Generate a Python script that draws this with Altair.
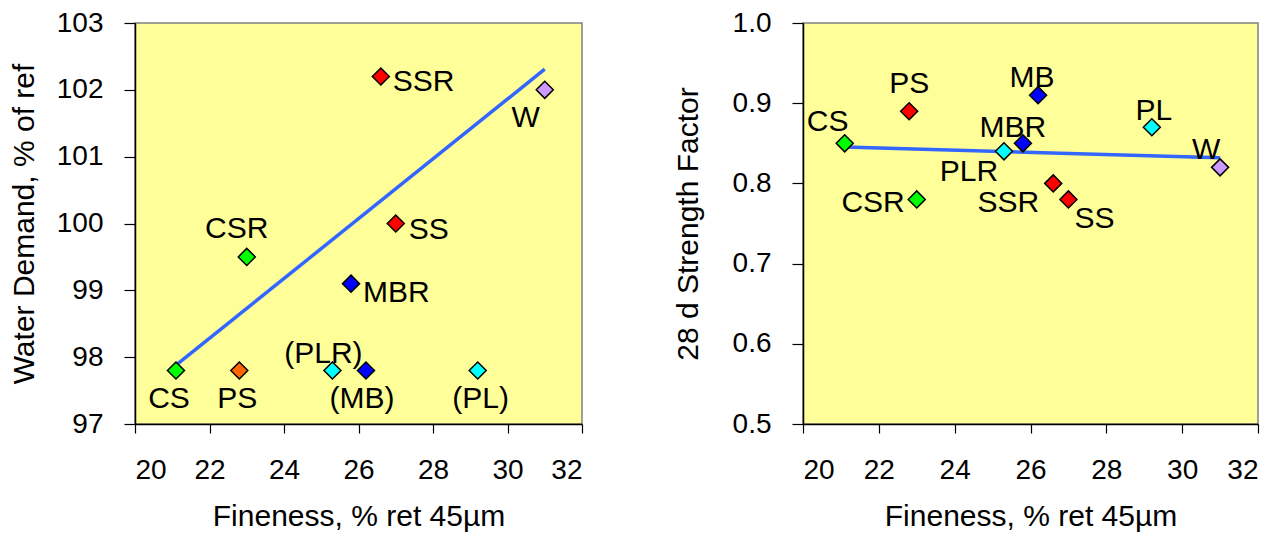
import altair as alt
import pandas as pd

# ---- data ----
names = ["CS", "PS", "CSR", "PLR", "MB", "MBR", "SSR", "SS", "PL", "W"]
fineness = [21.1, 22.8, 23.0, 25.3, 26.2, 25.8, 26.6, 27.0, 29.2, 31.0]

water_demand = [97.8, 97.8, 99.5, 97.8, 97.8, 99.1, 102.2, 100.0, 97.8, 102.0]
wd_labels = ["CS", "PS", "CSR", "(PLR)", "(MB)", "MBR", "SSR", "SS", "(PL)", "W"]
wd_in_fit = [True, True, True, False, False, True, True, True, False, True]
wd_colors = ["#00FF00", "#FF6600", "#00FF00", "#00FFFF", "#0000FF",
             "#0000FF", "#FF0000", "#FF0000", "#00FFFF", "#CC99FF"]

strength = [0.85, 0.89, 0.78, 0.84, 0.91, 0.85, 0.80, 0.78, 0.87, 0.82]
sf_labels = ["CS", "PS", "CSR", "PLR", "MB", "MBR", "SSR", "SS", "PL", "W"]
sf_colors = ["#00FF00", "#FF0000", "#00FF00", "#00FFFF", "#0000FF",
             "#0000FF", "#FF0000", "#FF0000", "#00FFFF", "#CC99FF"]

x_ticks = [20, 22, 24, 26, 28, 30, 32]
wd_ticks = [97, 98, 99, 100, 101, 102, 103]
sf_ticks = [0.5, 0.6, 0.7, 0.8, 0.9, 1.0]

# label placement (align, dx, dy) -- style only
wd_place = {
    "CS": ("center", -7, 37), "PS": ("center", -2, 37), "CSR": ("center", -10, -19),
    "PLR": ("center", -9, -8), "MB": ("center", -4, 37), "MBR": ("left", 12, 18),
    "SSR": ("left", 12, 15), "SS": ("left", 13, 15), "PL": ("center", 3, 37),
    "W": ("center", -19, 37),
}
sf_place = {
    "CS": ("center", -17, -12), "PS": ("center", 0, -18), "CSR": ("right", -12, 13),
    "PLR": ("center", -35, 30), "MB": ("center", -6, -8), "MBR": ("center", -10, -6),
    "SSR": ("right", -14, 29), "SS": ("left", 6, 29), "PL": ("center", 2, -7),
    "W": ("center", -14, -8),
}

FONT = "Liberation Sans"
LINE = "#3366FF"


def panel(yvals, labels, colors, fit, place, ydomain, yticks, ytitle, yfmt,
          width, title_pad):
    df = pd.DataFrame({"name": names, "x": fineness, "y": yvals,
                       "label": labels, "color": colors, "fit": fit})
    xenc = alt.X("x:Q", scale=alt.Scale(domain=[20, 32], nice=False),
                 axis=alt.Axis(values=x_ticks, title="Fineness, % ret 45µm",
                               titlePadding=17))
    yenc = alt.Y("y:Q", scale=alt.Scale(domain=ydomain, nice=False, zero=False),
                 axis=alt.Axis(values=yticks, title=ytitle, format=yfmt,
                               titlePadding=title_pad))
    base = alt.Chart(df)
    line = base.transform_filter("datum.fit").transform_regression(
        "x", "y", extent=[21.1, 31.0]
    ).mark_line(color=LINE, strokeWidth=3.5).encode(x="x:Q", y="y:Q")
    pts = base.mark_point(shape="diamond", filled=True, size=290, stroke="black",
                          strokeWidth=1.5, opacity=1).encode(
        x=xenc, y=yenc, fill=alt.Fill("color:N", scale=None))
    layers = [line, pts]
    for n in names:
        al, dx, dy = place[n]
        layers.append(
            base.transform_filter(alt.datum.name == n).mark_text(
                align=al, baseline="alphabetic", dx=dx, dy=dy, font=FONT,
                fontSize=30, color="black"
            ).encode(x="x:Q", y="y:Q", text="label:N")
        )
    return alt.layer(*layers).properties(width=width, height=401)


left = panel(water_demand, wd_labels, wd_colors, wd_in_fit, wd_place,
             [97, 103], wd_ticks, "Water Demand, % of ref", "d", 447, 17)
right = panel(strength, sf_labels, sf_colors, [True] * 10, sf_place,
              [0.5, 1.0], sf_ticks, "28 d Strength Factor", ".1f", 455, 29)

chart = alt.hconcat(left, right, spacing=88).properties(
    padding=0
).configure_view(
    fill="#FFFF99", stroke="#808080", strokeWidth=1.5
).configure_axis(
    grid=False, domainColor="black", domainWidth=1.5, tickColor="black",
    tickWidth=1.2, labelFont=FONT, labelFontSize=28, labelColor="black",
    titleFont=FONT, titleFontSize=30, titleFontWeight="normal", titleColor="black",
    labelPadding=21
).configure_axisX(
    tickSize=9, labelPadding=23
).configure_axisY(
    tickSize=11
)

chart.save("out.html", embed_options={"renderer": "svg", "actions": False})
